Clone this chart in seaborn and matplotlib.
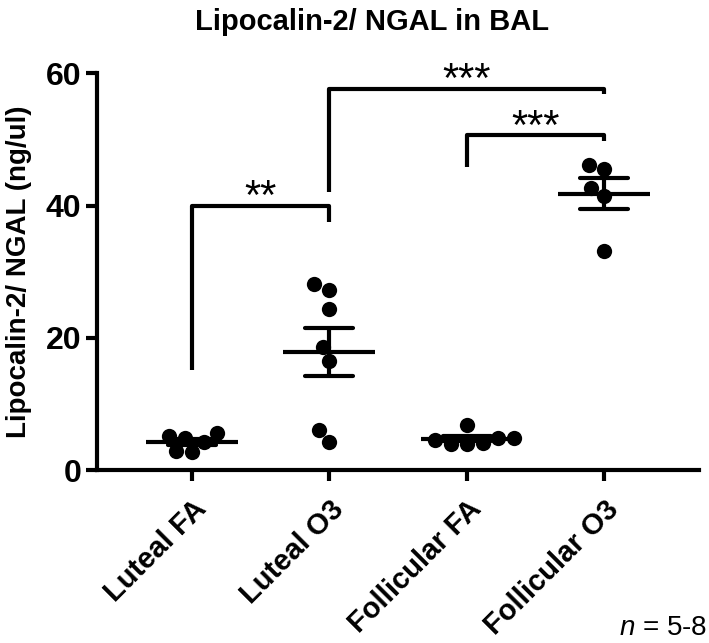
import pandas as pd
import matplotlib
matplotlib.use("Agg")
import matplotlib.pyplot as plt
import seaborn as sns

# Values (ng/ul)
groups = ["Luteal FA", "Luteal O3", "Follicular FA", "Follicular O3"]
luteal_fa = [5.1, 4.8, 4.2, 5.6, 2.9, 2.7]
luteal_o3 = [28.1, 27.3, 24.3, 18.6, 16.5, 6.0, 4.2]
follicular_fa = [4.9, 4.6, 4.0, 4.9, 4.1, 6.8, 4.0]
follicular_o3 = [46.2, 45.5, 42.7, 41.5, 33.1]

# significance comparisons (group a, group b, label)
comparisons = [("Luteal FA", "Luteal O3", "**"),
               ("Luteal O3", "Follicular O3", "***"),
               ("Follicular FA", "Follicular O3", "***")]

df = pd.DataFrame({
    "group": [groups[0]] * len(luteal_fa) + [groups[1]] * len(luteal_o3)
             + [groups[2]] * len(follicular_fa) + [groups[3]] * len(follicular_o3),
    "value": luteal_fa + luteal_o3 + follicular_fa + follicular_o3,
})

sns.set_style("ticks")
plt.rcParams["font.family"] = ["Liberation Sans", "DejaVu Sans"]
plt.rcParams["mathtext.fontset"] = "custom"
plt.rcParams["mathtext.rm"] = "Liberation Sans"
plt.rcParams["mathtext.it"] = "Liberation Sans:italic"
for k in ["text.color", "axes.labelcolor", "xtick.color", "ytick.color", "axes.edgecolor"]:
    plt.rcParams[k] = "black"

fig = plt.figure(figsize=(7.09, 6.43), dpi=100)
ax = fig.add_axes([0.137, 0.269, 0.849, 0.617])

sns.swarmplot(data=df, x="group", y="value", order=groups, color="black",
              size=11, ax=ax, zorder=3)
sns.pointplot(data=df, x="group", y="value", order=groups, errorbar="se",
              capsize=0.35, linestyle="none", marker="_", markersize=66,
              markeredgewidth=3, color="black", err_kws={"linewidth": 3},
              ax=ax, zorder=4)

ax.set_xlim(-0.69, 3.69)
ax.set_ylim(0, 60)
ax.set_yticks([0, 20, 40, 60])
ax.set_xlabel("")
ax.set_ylabel("Lipocalin-2/ NGAL (ng/ul)", fontsize=20, fontweight="bold", labelpad=10)
ax.tick_params(axis="both", width=3, length=8, labelsize=23)
ax.tick_params(axis="x", pad=10)
for lab in ax.get_yticklabels():
    lab.set_fontweight("bold")
ax.set_xticks(range(len(groups)))
ax.set_xticklabels(groups, rotation=45, ha="right", rotation_mode="anchor",
                   fontweight="bold", fontsize=21)
for s in ["left", "bottom"]:
    ax.spines[s].set_linewidth(3)
sns.despine(ax=ax)

# brackets: (bar height, left leg bottom, right leg bottom)
bracket_geo = [(40.0, 15.1, 37.5),
               (57.7, 42.0, 56.8),
               (50.6, 45.8, 49.8)]
for (a, b, lab), (top, la, lb) in zip(comparisons, bracket_geo):
    x1, x2 = groups.index(a), groups.index(b)
    ax.plot([x1, x1, x2, x2], [la, top, top, lb], color="black", lw=3,
            clip_on=False, solid_capstyle="butt")
    ax.text((x1 + x2) / 2, top - 0.5, lab, ha="center", va="baseline", fontsize=30)

fig.text(372 / 709, 1 - 22 / 643, "Lipocalin-2/ NGAL in BAL", ha="center",
         va="center", fontsize=21, fontweight="bold")
fig.text(0.997, 1 - 628 / 643, "$n$ = 5-8", ha="right", va="center", fontsize=20)

fig.savefig("out.png", dpi=100)
